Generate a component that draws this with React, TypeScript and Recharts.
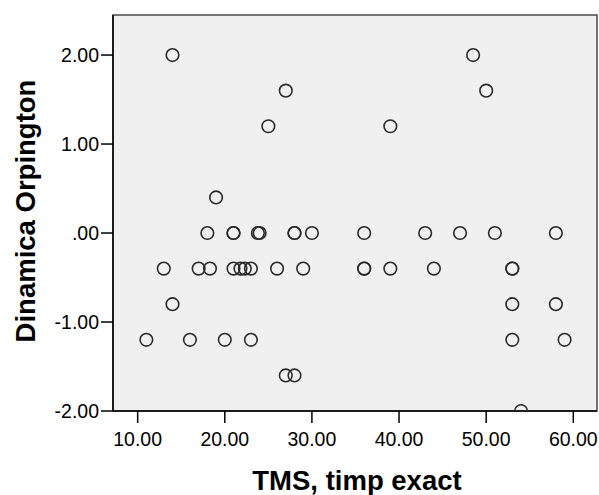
import React from "react";
import { ScatterChart, Scatter, XAxis, YAxis, ReferenceArea } from "recharts";

const tmsValues = [
  14, 48.5,
  27, 50,
  25, 39,
  19,
  18, 21, 21, 23.8, 24, 28, 28, 30, 36, 43, 47, 51, 58,
  13, 17, 18.3, 21, 21.8, 22.3, 23, 26, 29, 36, 36, 39, 44, 53, 53,
  14, 53, 58,
  11, 16, 20, 23, 53, 59,
  27, 28,
  54,
];
const dinamicaValues = [
  2, 2,
  1.6, 1.6,
  1.2, 1.2,
  0.4,
  0, 0, 0, 0, 0, 0, 0, 0, 0, 0, 0, 0, 0,
  -0.4, -0.4, -0.4, -0.4, -0.4, -0.4, -0.4, -0.4, -0.4, -0.4, -0.4, -0.4, -0.4, -0.4, -0.4,
  -0.8, -0.8, -0.8,
  -1.2, -1.2, -1.2, -1.2, -1.2, -1.2,
  -1.6, -1.6,
  -2,
];
const xTicks = [10, 20, 30, 40, 50, 60];
const yTicks = [-2, -1, 0, 1, 2];
const xDomain = [7.17, 62.72];
const yDomain = [-2, 2.45];

const data = tmsValues.map((x, i) => ({ x, y: dinamicaValues[i] }));

const fmt = (v: number) => {
  const s = v.toFixed(2);
  if (s === "0.00") return ".00";
  return s;
};

const tickStyle = { fontFamily: "Liberation Sans, Arial, sans-serif", fontSize: 19.5, fill: "#000" };

const Ring = (props: any) => (
  <circle cx={props.cx} cy={props.cy} r={6.3} fill="none" stroke="#2a2a2a" strokeWidth={1.6} />
);

export default function App() {
  return (
    <div style={{ position: "absolute", left: 0, top: 0, width: 599, height: 495, background: "#fff" }}>
      <ScatterChart width={599} height={495} margin={{ top: 15, right: 2, bottom: 0, left: 0 }}>
        <XAxis
          type="number"
          dataKey="x"
          domain={xDomain}
          ticks={xTicks}
          allowDataOverflow
          tickFormatter={fmt}
          tickSize={12}
          tickMargin={9}
          height={84}
          stroke="#000"
          tick={tickStyle}
          tickLine={{ stroke: "#000", strokeWidth: 1.5 }}
          axisLine={{ stroke: "#000", strokeWidth: 1.5 }}
          label={{
            content: (p: any) => {
              const vb = p.viewBox;
              return (
                <text
                  x={vb.x + vb.width / 2 + 2}
                  y={490}
                  textAnchor="middle"
                  fontFamily="Liberation Sans, Arial, sans-serif"
                  fontWeight="bold"
                  fontSize={27.5}
                  fill="#000"
                >
                  TMS, timp exact
                </text>
              );
            },
          }}
        />
        <YAxis
          type="number"
          dataKey="y"
          domain={yDomain}
          ticks={yTicks}
          allowDataOverflow
          tickFormatter={fmt}
          tickSize={12}
          tickMargin={2}
          width={113}
          stroke="#000"
          tick={tickStyle}
          tickLine={{ stroke: "#000", strokeWidth: 1.5 }}
          axisLine={{ stroke: "#000", strokeWidth: 1.5 }}
          label={{
            content: (p: any) => {
              const vb = p.viewBox;
              const cx = 35;
              const cy = vb.y + vb.height / 2 - 2;
              return (
                <text
                  x={cx}
                  y={cy}
                  transform={`rotate(-90 ${cx} ${cy})`}
                  textAnchor="middle"
                  fontFamily="Liberation Sans, Arial, sans-serif"
                  fontWeight="bold"
                  fontSize={27.5}
                  fill="#000"
                >
                  Dinamica Orpington
                </text>
              );
            },
          }}
        />
        <ReferenceArea
          x1={xDomain[0]}
          x2={xDomain[1]}
          y1={yDomain[0]}
          y2={yDomain[1]}
          fill="#f0f0f0"
          fillOpacity={1}
          stroke="#4a4a4a"
          strokeWidth={1.5}
        />
        <Scatter data={data} shape={Ring} isAnimationActive={false} />
      </ScatterChart>
    </div>
  );
}
